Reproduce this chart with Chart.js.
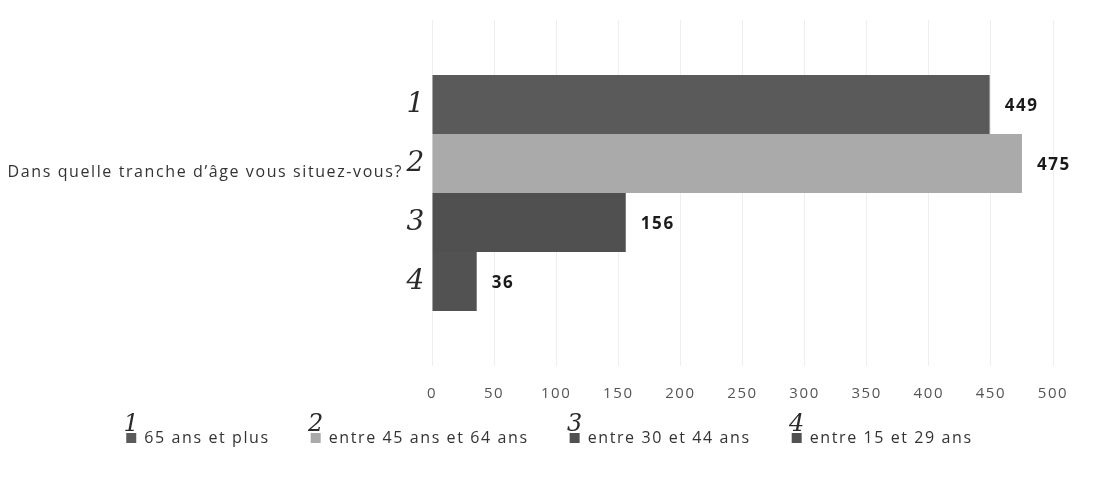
<!DOCTYPE html>
<html>
<head>
<meta charset="utf-8">
<script src="https://cdn.jsdelivr.net/npm/chart.js@4.4.1/dist/chart.umd.min.js"></script>
<style>
  html, body { margin: 0; padding: 0; background: #fff; }
  #wrap { width: 1099px; height: 500px; position: relative; }
</style>
</head>
<body>
<div id="wrap"><canvas id="chart" width="1099" height="500"></canvas></div>
<script>
const categories = ["Dans quelle tranche d\u2019\u00e2ge vous situez-vous?"];
const seriesNames = ["65 ans et plus", "entre 45 ans et 64 ans", "entre 30 et 44 ans", "entre 15 et 29 ans"];
const seriesValues = [[449], [475], [156], [36]];
const seriesColors = ["#5a5a5a", "#aaaaaa", "#505050", "#525252"];
const handNotes = ["1", "2", "3", "4"];
const xTicks = [0, 50, 100, 150, 200, 250, 300, 350, 400, 450, 500];

const FONT = "Open Sans, sans-serif";
const SPACING = "1.6px"; // the scanned original is a bit stretched sideways

const spacing = {
  id: "spacing",
  beforeUpdate(chart) { chart.ctx.letterSpacing = SPACING; },
  beforeDraw(chart) { chart.ctx.letterSpacing = SPACING; },
  afterLayout(chart) {
    // pull the legend up under the tick labels and centre it on the page
    const lg = chart.legend;
    const dy = lg.top - (chart.chartArea.bottom + 23);
    lg.top -= dy;
    lg.bottom -= dy;
    lg.left += 19;
    lg.right += 19;
  },
};

// handwritten numbers next to bars and above legend swatches, plus value labels
const annotate = {
  id: "annotate",
  afterDatasetsDraw(chart) {
    const { ctx } = chart;
    ctx.save();
    chart.data.datasets.forEach((ds, i) => {
      const bar = chart.getDatasetMeta(i).data[0];
      ctx.fillStyle = "#1a1a1a";
      ctx.font = "700 17px " + FONT;
      ctx.textAlign = "left";
      ctx.textBaseline = "middle";
      ctx.fillText(String(ds.data[0]), bar.x + 15, bar.y + 2);
    });
    ctx.letterSpacing = "0px";
    ctx.fillStyle = "#2a2a2a";
    ctx.textAlign = "center";
    ctx.textBaseline = "middle";
    ctx.font = "italic 28px DejaVu Serif, serif";
    chart.data.datasets.forEach((ds, i) => {
      const bar = chart.getDatasetMeta(i).data[0];
      ctx.fillText(handNotes[i], bar.base - 17, bar.y);
    });
    ctx.restore();
  },
  afterDraw(chart) {
    const { ctx } = chart;
    const boxes = chart.legend.legendHitBoxes || [];
    ctx.save();
    ctx.letterSpacing = "0px";
    ctx.fillStyle = "#2a2a2a";
    ctx.font = "italic 24px DejaVu Serif, serif";
    ctx.textAlign = "center";
    ctx.textBaseline = "alphabetic";
    boxes.forEach((b, i) => {
      ctx.fillText(handNotes[i], b.left + 5, b.top + 1);
    });
    ctx.restore();
  },
};

new Chart(document.getElementById("chart"), {
  type: "bar",
  data: {
    labels: categories,
    datasets: seriesNames.map((name, i) => ({
      label: name,
      data: seriesValues[i],
      backgroundColor: seriesColors[i],
      borderWidth: 0,
      categoryPercentage: 0.682,
      barPercentage: 1,
    })),
  },
  options: {
    indexAxis: "y",
    responsive: false,
    animation: false,
    layout: { padding: { top: 20, right: 46, bottom: 11, left: 8 } },
    scales: {
      x: {
        min: 0,
        max: 500,
        afterBuildTicks: (axis) => { axis.ticks = xTicks.map((v) => ({ value: v })); },
        grid: { color: "#eeeeee", drawTicks: false },
        border: { display: false },
        ticks: { color: "#555", font: { family: FONT, size: 15 }, padding: 19 },
      },
      y: {
        afterFit: (axis) => { axis.width = 424; },
        grid: { display: false, drawTicks: true, tickLength: 29 },
        border: { display: false },
        ticks: { color: "#333", font: { family: FONT, size: 16 }, padding: 0, labelOffset: -21 },
      },
    },
    plugins: {
      legend: {
        position: "bottom",
        labels: {
          color: "#333",
          font: { family: FONT, size: 16 },
          boxWidth: 10,
          boxHeight: 10,
          padding: 41,
        },
      },
      tooltip: { enabled: false },
    },
  },
  plugins: [spacing, annotate],
});
</script>
</body>
</html>
